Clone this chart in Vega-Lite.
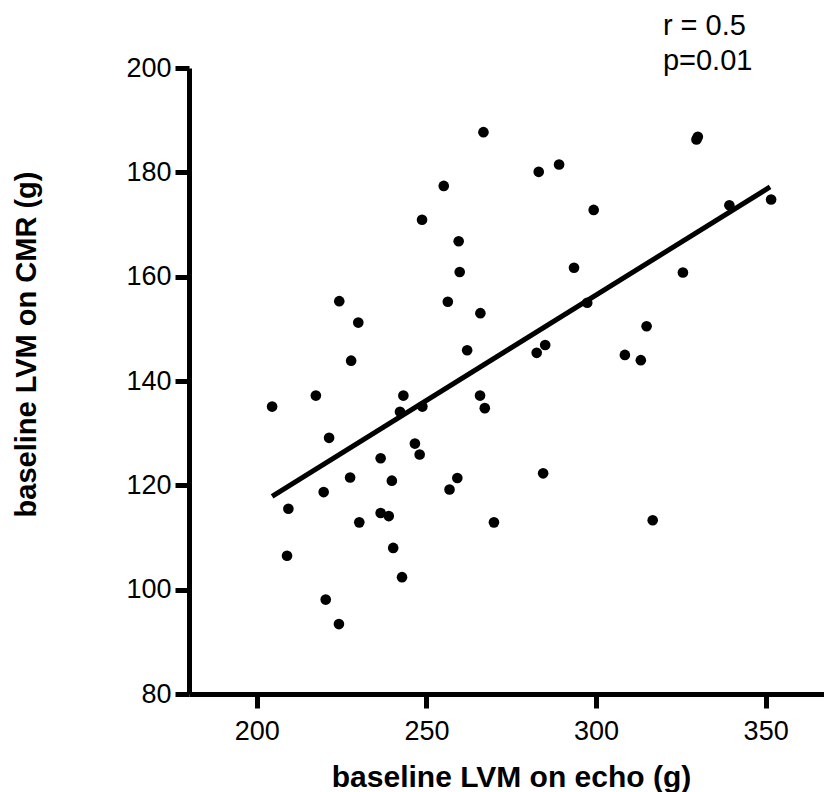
{
  "$schema": "https://vega.github.io/schema/vega-lite/v6.json",
  "width": 635,
  "height": 626,
  "autosize": {"type": "none"},
  "padding": {"left": 189, "top": 68, "right": 0, "bottom": 98},
  "background": "white",
  "config": {
    "view": {"stroke": null},
    "font": "Liberation Sans",
    "axis": {
      "grid": false,
      "domainColor": "black",
      "domainWidth": 5,
      "tickColor": "black",
      "tickWidth": 5,
      "tickSize": 14,
      "labelColor": "black",
      "labelFont": "Liberation Sans",
      "labelFontSize": 27,
      "titleColor": "black",
      "titleFont": "Liberation Sans",
      "titleFontWeight": "bold",
      "titleFontSize": 30
    }
  },
  "datasets": {
    "points": [
      {"echo": 224.3, "cmr": 155.3},
      {"echo": 229.9, "cmr": 151.2},
      {"echo": 227.8, "cmr": 143.9},
      {"echo": 217.4, "cmr": 137.2},
      {"echo": 243.2, "cmr": 137.2},
      {"echo": 266.8, "cmr": 187.7},
      {"echo": 283.1, "cmr": 180.1},
      {"echo": 289.1, "cmr": 181.5},
      {"echo": 255.1, "cmr": 177.4},
      {"echo": 248.7, "cmr": 170.9},
      {"echo": 299.3, "cmr": 172.8},
      {"echo": 259.5, "cmr": 166.8},
      {"echo": 259.8, "cmr": 160.9},
      {"echo": 293.5, "cmr": 161.7},
      {"echo": 256.3, "cmr": 155.2},
      {"echo": 297.4, "cmr": 155.0},
      {"echo": 265.9, "cmr": 153.0},
      {"echo": 262.0, "cmr": 145.9},
      {"echo": 282.5, "cmr": 145.4},
      {"echo": 285.0, "cmr": 146.9},
      {"echo": 308.5, "cmr": 145.0},
      {"echo": 313.2, "cmr": 144.0},
      {"echo": 265.8, "cmr": 137.2},
      {"echo": 329.6, "cmr": 186.3},
      {"echo": 330.0, "cmr": 186.8},
      {"echo": 339.3, "cmr": 173.7},
      {"echo": 351.6, "cmr": 174.8},
      {"echo": 325.6, "cmr": 160.8},
      {"echo": 314.9, "cmr": 150.5},
      {"echo": 204.5, "cmr": 135.1},
      {"echo": 242.2, "cmr": 134.1},
      {"echo": 246.6, "cmr": 128.0},
      {"echo": 221.3, "cmr": 129.1},
      {"echo": 236.5, "cmr": 125.2},
      {"echo": 227.5, "cmr": 121.5},
      {"echo": 239.8, "cmr": 120.9},
      {"echo": 219.7, "cmr": 118.7},
      {"echo": 209.3, "cmr": 115.5},
      {"echo": 236.5, "cmr": 114.7},
      {"echo": 238.9, "cmr": 114.1},
      {"echo": 230.2, "cmr": 112.9},
      {"echo": 208.9, "cmr": 106.5},
      {"echo": 240.2, "cmr": 108.0},
      {"echo": 242.8, "cmr": 102.4},
      {"echo": 220.3, "cmr": 98.1},
      {"echo": 224.2, "cmr": 93.4},
      {"echo": 267.2, "cmr": 134.8},
      {"echo": 248.8, "cmr": 135.1},
      {"echo": 248.0, "cmr": 125.9},
      {"echo": 259.1, "cmr": 121.4},
      {"echo": 256.8, "cmr": 119.2},
      {"echo": 284.4, "cmr": 122.3},
      {"echo": 269.9, "cmr": 112.9},
      {"echo": 316.7, "cmr": 113.3}
    ],
    "fit": [
      {"echo": 204.5, "cmr": 117.9},
      {"echo": 351.3, "cmr": 177.2}
    ],
    "notes": [
      {"echo": 319.7, "cmr": 206.4, "label": "r = 0.5"},
      {"echo": 319.7, "cmr": 199.7, "label": "p=0.01"}
    ]
  },
  "layer": [
    {
      "data": {"name": "points"},
      "mark": {"type": "point", "filled": true, "shape": "circle", "size": 113, "color": "black", "opacity": 1},
      "encoding": {
        "x": {
          "field": "echo", "type": "quantitative",
          "scale": {"domain": [180, 367.2], "nice": false, "zero": false},
          "axis": {
            "values": [200, 250, 300, 350],
            "title": "baseline LVM on echo (g)",
            "labelBaseline": "alphabetic",
            "labelPadding": 31,
            "titleX": 322,
            "titleY": 92,
            "titleAlign": "center",
            "titleBaseline": "alphabetic"
          }
        },
        "y": {
          "field": "cmr", "type": "quantitative",
          "scale": {"domain": [80, 200], "nice": false, "zero": false},
          "axis": {
            "values": [80, 100, 120, 140, 160, 180, 200],
            "title": "baseline LVM on CMR (g)",
            "labelPadding": 4,
            "titleFontSize": 29,
            "titleX": -154,
            "titleY": 276,
            "titleAngle": -90,
            "titleAlign": "center",
            "titleBaseline": "alphabetic"
          }
        }
      }
    },
    {
      "data": {"name": "fit"},
      "mark": {"type": "line", "color": "black", "strokeWidth": 5},
      "encoding": {
        "x": {"field": "echo", "type": "quantitative"},
        "y": {"field": "cmr", "type": "quantitative"}
      }
    },
    {
      "data": {"name": "notes"},
      "mark": {"type": "text", "align": "left", "baseline": "alphabetic", "fontSize": 29, "font": "Liberation Sans", "color": "black", "clip": false},
      "encoding": {
        "x": {"field": "echo", "type": "quantitative"},
        "y": {"field": "cmr", "type": "quantitative"},
        "text": {"field": "label"}
      }
    }
  ]
}
